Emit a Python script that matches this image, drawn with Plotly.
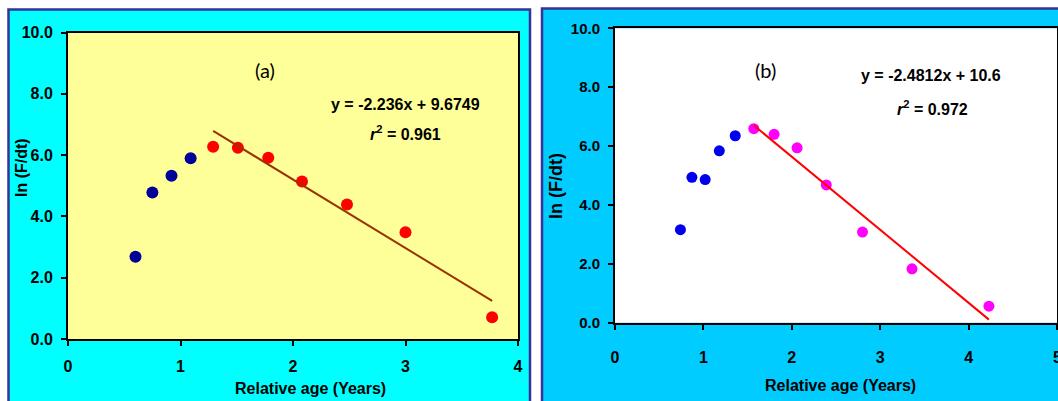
import plotly.graph_objects as go

# ---------------- data ----------------
# Panel (a)
a_blue_x = [0.60, 0.75, 0.92, 1.09]
a_blue_y = [2.68, 4.78, 5.33, 5.90]
a_red_x = [1.29, 1.51, 1.78, 2.08, 2.48, 3.00, 3.77]
a_red_y = [6.27, 6.24, 5.91, 5.14, 4.39, 3.48, 0.71]
a_slope, a_intercept = -2.236, 9.6749
a_fit_x = [1.29, 3.77]

# Panel (b)
b_blue_x = [0.74, 0.87, 1.02, 1.18, 1.36]
b_blue_y = [3.16, 4.94, 4.86, 5.84, 6.35]
b_mag_x = [1.57, 1.80, 2.06, 2.39, 2.80, 3.36, 4.23]
b_mag_y = [6.59, 6.40, 5.94, 4.68, 3.08, 1.83, 0.56]
b_slope, b_intercept = -2.4812, 10.6
b_fit_x = [1.57, 4.23]

y_ticks = [0, 2, 4, 6, 8, 10]
xa_ticks = [0, 1, 2, 3, 4]
xb_ticks = [0, 1, 2, 3, 4, 5]

x_title = "Relative age (Years)"
y_title = "ln (F/dt)"

W, H = 1058, 401


def X(px):
    return px / W


def Y(py):
    return 1 - py / H


a_fit_y = [a_slope * v + a_intercept for v in a_fit_x]
b_fit_y = [b_slope * v + b_intercept for v in b_fit_x]

FA = "Liberation Sans, Arial, sans-serif"
FB = "Liberation Sans, Arial, sans-serif"
SA = 16   # panel (a) text size
SB = 15   # panel (b) text size

fig = go.Figure()

fig.add_trace(go.Scatter(x=a_blue_x, y=a_blue_y, mode="markers", xaxis="x", yaxis="y",
                         marker=dict(color="#000099", size=12), showlegend=False))
fig.add_trace(go.Scatter(x=a_red_x, y=a_red_y, mode="markers", xaxis="x", yaxis="y",
                         marker=dict(color="#FF0000", size=12), showlegend=False))
fig.add_trace(go.Scatter(x=a_fit_x, y=a_fit_y, mode="lines", xaxis="x", yaxis="y",
                         line=dict(color="#993300", width=2), showlegend=False))

fig.add_trace(go.Scatter(x=b_blue_x, y=b_blue_y, mode="markers", xaxis="x2", yaxis="y2",
                         marker=dict(color="#0000EE", size=11), showlegend=False))
fig.add_trace(go.Scatter(x=b_mag_x, y=b_mag_y, mode="markers", xaxis="x2", yaxis="y2",
                         marker=dict(color="#FF00FF", size=11), showlegend=False))
fig.add_trace(go.Scatter(x=b_fit_x, y=b_fit_y, mode="lines", xaxis="x2", yaxis="y2",
                         line=dict(color="#FF0000", width=2), showlegend=False))

axis_common = dict(showline=True, mirror=True, linecolor="black", linewidth=2,
                   ticks="outside", ticklen=5, tickwidth=1.5, tickcolor="black",
                   showgrid=False, zeroline=False)

fig.update_layout(
    width=W, height=H,
    margin=dict(l=0, r=0, t=0, b=0, autoexpand=False),
    paper_bgcolor="white",
    plot_bgcolor="rgba(0,0,0,0)",
    xaxis=dict(domain=[X(68), X(518)], range=[0, 4], tickvals=xa_ticks, anchor="y",
               tickfont=dict(family=FA, size=SA, color="black", weight="bold"),
               ticklabelstandoff=7, **axis_common),
    yaxis=dict(domain=[Y(339), Y(32.5)], range=[0, 10], tickvals=y_ticks, tickformat=".1f",
               anchor="x",
               tickfont=dict(family=FA, size=SA, color="black", weight="bold"),
               ticklabelstandoff=5, **axis_common),
    xaxis2=dict(domain=[X(615), X(1057)], range=[0, 5], tickvals=xb_ticks, anchor="y2",
                tickfont=dict(family=FB, size=SB + 1, color="black", weight="bold"),
                ticklabelstandoff=14, **axis_common),
    yaxis2=dict(domain=[Y(322.7), Y(28.3)], range=[0, 10], tickvals=y_ticks, tickformat=".1f",
                anchor="x2",
                tickfont=dict(family=FB, size=SB, color="black", weight="bold"),
                ticklabelstandoff=5, **axis_common),
)

shapes = [
    # outer panels
    dict(type="rect", xref="paper", yref="paper", x0=X(8.5), x1=X(530), y0=-0.1, y1=Y(9.5),
         fillcolor="#00FFFF", line=dict(color="#333399", width=2.5), layer="below"),
    dict(type="rect", xref="paper", yref="paper", x0=X(542), x1=1.1, y0=-0.1, y1=Y(8.5),
         fillcolor="#00CCFF", line=dict(color="#333399", width=2.5), layer="below"),
    # plot area backgrounds
    dict(type="rect", xref="x domain", yref="y domain", x0=0, x1=1, y0=0, y1=1,
         fillcolor="#FFFF99", line=dict(width=0), layer="below"),
    dict(type="rect", xref="x2 domain", yref="y2 domain", x0=0, x1=1, y0=0, y1=1,
         fillcolor="white", line=dict(width=0), layer="below"),
]
fig.update_layout(shapes=shapes)


def note(text, px, py, family, size, bold=True, angle=0):
    f = dict(family=family, size=size, color="black")
    if bold:
        f["weight"] = "bold"
    return dict(text=text, x=X(px), y=Y(py), xref="paper", yref="paper", showarrow=False,
                xanchor="center", yanchor="middle", textangle=angle, font=f)


ann = [
    note(x_title, 310, 388, FA, SA),
    note(y_title, 21, 168, FA, 16, angle=-90),
    note(x_title, 840, 385, FB, SB + 1),
    note(y_title, 556, 186, FB, 18, angle=-90),
    note("(a)", 265, 70, "Lato, Open Sans, sans-serif", 20, bold=False),
    note("(b)", 765, 70, "Lato, Open Sans, sans-serif", 20, bold=False),
    note("y = %.3fx + %.4f" % (a_slope, a_intercept), 405, 104, FA, SA),
    note("<i>r</i><sup>2</sup> = 0.961", 405, 133, FA, SA),
    note("y = %.4fx + %.1f" % (b_slope, b_intercept), 931, 75, FB, SB + 1),
    note("<i>r</i><sup>2</sup> = 0.972", 932, 108, FB, SB + 1),
]
# the last x tick label of panel (b) sits on the figure edge; plotly drops it, so draw it
ann.append(dict(text=str(xb_ticks[-1]), x=xb_ticks[-1], y=Y(357), xref="x2", yref="paper",
                showarrow=False, xanchor="center", yanchor="middle",
                font=dict(family=FB, size=SB + 1, color="black", weight="bold")))
fig.update_layout(annotations=ann)

fig.write_html("out.html")
